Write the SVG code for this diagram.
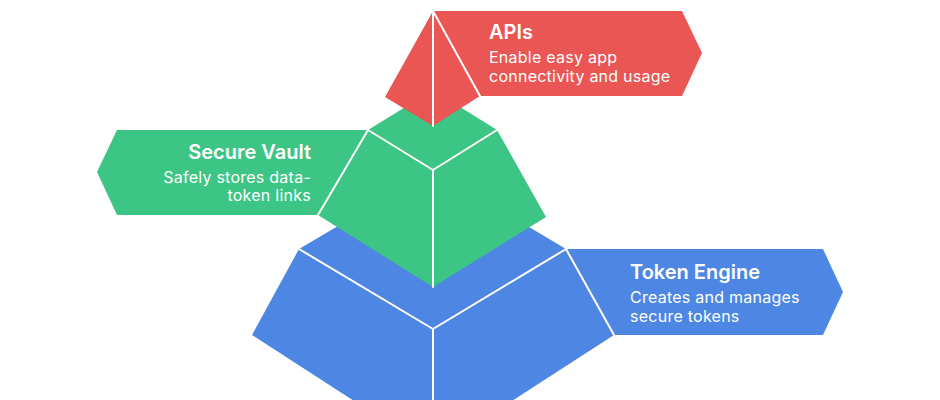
<svg xmlns="http://www.w3.org/2000/svg" width="940" height="400" viewBox="0 0 940 400">
<style>
.line{stroke:#ffffff;stroke-width:2;fill:none;stroke-linejoin:round;stroke-linecap:round}
.red{fill:#E95653}
.green{fill:#3DC585}
.blue{fill:#4D87E3}
.title{font-family:Inter,"Open Sans","Liberation Sans",sans-serif;font-weight:600;font-size:20px;fill:#ffffff}
.body{font-family:Inter,"Open Sans","Liberation Sans",sans-serif;font-weight:400;font-size:16px;letter-spacing:0.25px;fill:#ffffff}
</style>
<rect width="940" height="400" fill="#ffffff"/>
<g id="engine">
<polygon class="blue" points="566,249 823,249 843,292 823,335 614,335"/>
<polygon class="blue" points="299,249 433,170 566,249 614,335 433,452 252,335"/>
<polyline class="line" points="299,249 433,329 566,249"/>
<line class="line" x1="433" y1="329" x2="433" y2="452"/>
<line class="line" x1="566" y1="249" x2="614" y2="335"/>
<text class="title" x="630" y="279">Token Engine</text>
<text class="body" x="630" y="303">Creates and manages</text>
<text class="body" x="630" y="322">secure tokens</text>
</g>
<g id="vault">
<polygon class="green" points="368,130 117,130 97,172 117,215 318,215"/>
<polygon class="green" points="368,130 433,90 497,130 546,217 433,287 318,215"/>
<polyline class="line" points="368,130 433,170 497,130"/>
<line class="line" x1="433" y1="170" x2="433" y2="287"/>
<line class="line" x1="368" y1="130" x2="318" y2="215"/>
<text class="title" x="311" y="159" text-anchor="end">Secure Vault</text>
<text class="body" x="311" y="183" text-anchor="end">Safely stores data-</text>
<text class="body" x="311" y="201" text-anchor="end">token links</text>
</g>
<g id="apis">
<polygon class="red" points="433,11 682,11 702,53 682,96 480,96 433,126 385,97"/>
<line class="line" x1="433" y1="11" x2="433" y2="126"/>
<line class="line" x1="433" y1="11" x2="480" y2="96"/>
<text class="title" x="489" y="39">APIs</text>
<text class="body" x="489" y="63">Enable easy app</text>
<text class="body" x="489" y="82">connectivity and usage</text>
</g>
</svg>
